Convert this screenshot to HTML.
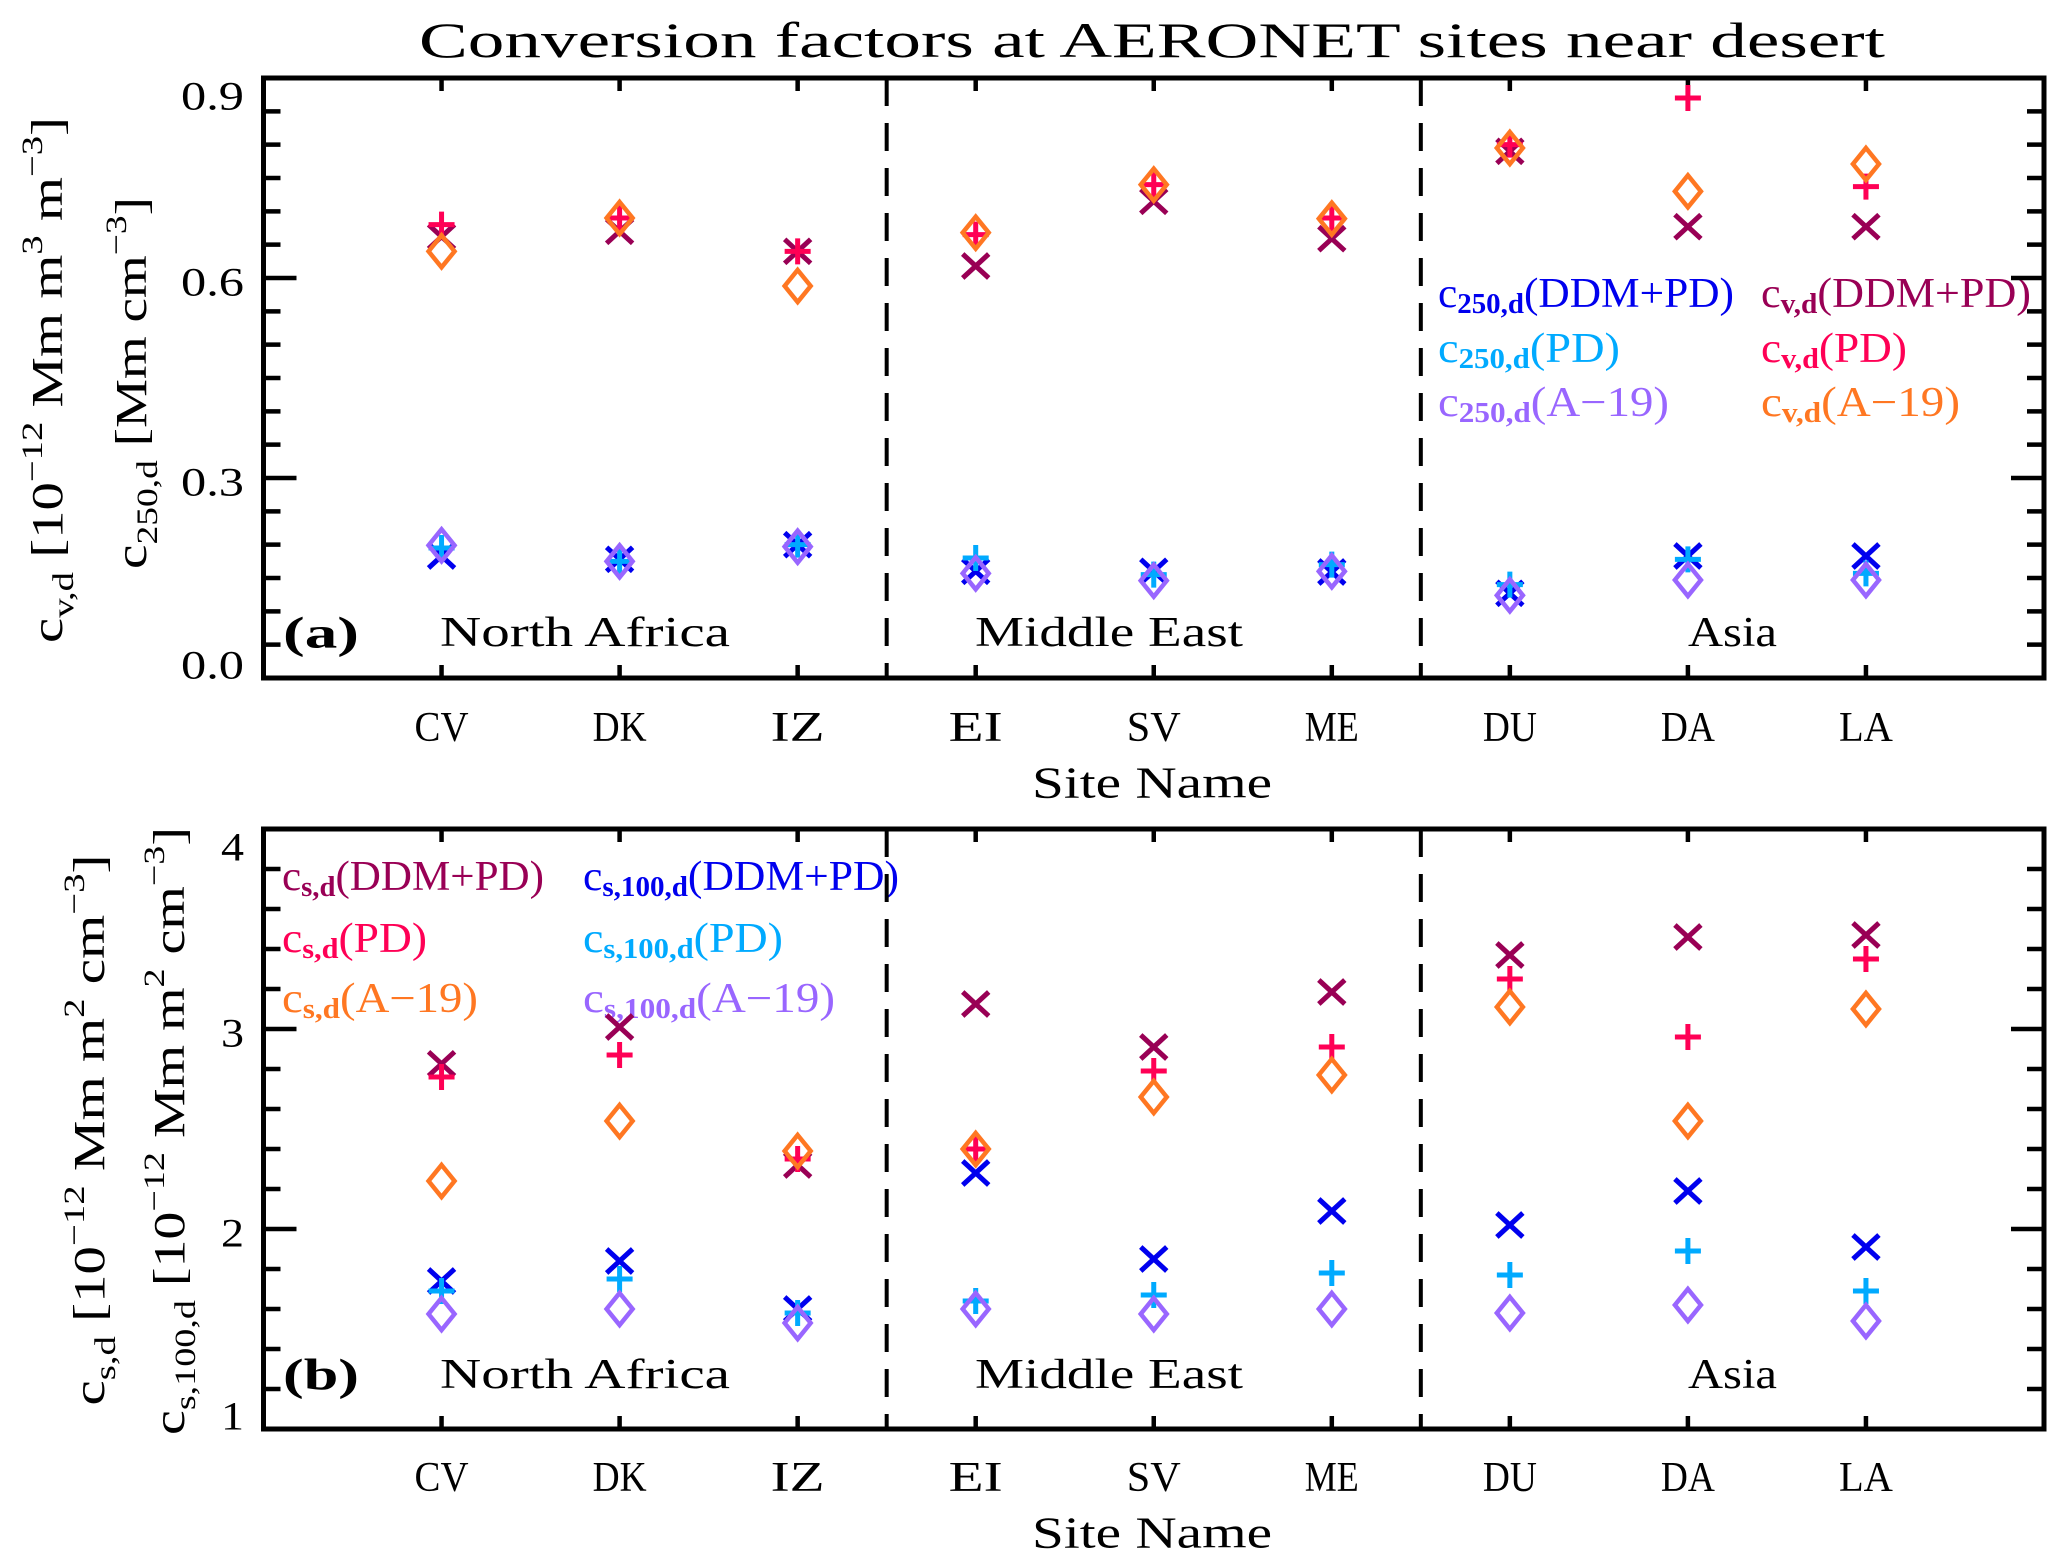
<!DOCTYPE html>
<html><head><meta charset="utf-8"><style>
html,body{margin:0;padding:0;background:#fff;overflow:hidden;}
svg{display:block;}
text{font-family:"Liberation Serif",serif;fill:#000;}
</style></head><body>
<svg id="chart" xmlns="http://www.w3.org/2000/svg" width="2067" height="1565" viewBox="0 0 2067 1565">
<rect x="0" y="0" width="2067" height="1565" fill="#fff"/>
<text x="1152" y="40" font-size="50" text-anchor="middle" dominant-baseline="central" textLength="1466" lengthAdjust="spacingAndGlyphs">Conversion factors at AERONET sites near desert</text>

<text transform="translate(62,380) rotate(-90)" font-size="44" text-anchor="middle" textLength="526" lengthAdjust="spacingAndGlyphs">c<tspan font-size="30" baseline-shift="-11">v,d</tspan> [10<tspan font-size="30" baseline-shift="20">−12</tspan> Mm m<tspan font-size="30" baseline-shift="20">3</tspan> m<tspan font-size="30" baseline-shift="20">−3</tspan>]</text>
<text transform="translate(146,383) rotate(-90)" font-size="44" text-anchor="middle" textLength="372" lengthAdjust="spacingAndGlyphs">c<tspan font-size="30" baseline-shift="-11">250,d</tspan> [Mm cm<tspan font-size="30" baseline-shift="20">−3</tspan>]</text>
<text transform="translate(104,1130) rotate(-90)" font-size="44" text-anchor="middle" textLength="551" lengthAdjust="spacingAndGlyphs">c<tspan font-size="30" baseline-shift="-11">s,d</tspan> [10<tspan font-size="30" baseline-shift="20">−12</tspan> Mm m<tspan font-size="30" baseline-shift="20">2</tspan> cm<tspan font-size="30" baseline-shift="20">−3</tspan>]</text>
<text transform="translate(184,1131) rotate(-90)" font-size="44" text-anchor="middle" textLength="608" lengthAdjust="spacingAndGlyphs">c<tspan font-size="30" baseline-shift="-11">s,100,d</tspan> [10<tspan font-size="30" baseline-shift="20">−12</tspan> Mm m<tspan font-size="30" baseline-shift="20">2</tspan> cm<tspan font-size="30" baseline-shift="20">−3</tspan>]</text>

<text x="1152" y="783" font-size="44" text-anchor="middle" dominant-baseline="central" textLength="240" lengthAdjust="spacingAndGlyphs">Site Name</text>
<text x="1152" y="1533" font-size="44" text-anchor="middle" dominant-baseline="central" textLength="240" lengthAdjust="spacingAndGlyphs">Site Name</text>

<text x="283" y="633" font-size="44" font-weight="bold" dominant-baseline="central" textLength="76" lengthAdjust="spacingAndGlyphs" font-family="Liberation Sans">(a)</text>
<text x="283" y="1375" font-size="44" font-weight="bold" dominant-baseline="central" textLength="76" lengthAdjust="spacingAndGlyphs" font-family="Liberation Sans">(b)</text>

<text x="440" y="633" font-size="42" dominant-baseline="central" textLength="290" lengthAdjust="spacingAndGlyphs">North Africa</text>
<text x="975" y="633" font-size="42" dominant-baseline="central" textLength="268" lengthAdjust="spacingAndGlyphs">Middle East</text>
<text x="1688" y="633" font-size="42" dominant-baseline="central" textLength="89" lengthAdjust="spacingAndGlyphs">Asia</text>
<text x="440" y="1375" font-size="42" dominant-baseline="central" textLength="290" lengthAdjust="spacingAndGlyphs">North Africa</text>
<text x="975" y="1375" font-size="42" dominant-baseline="central" textLength="268" lengthAdjust="spacingAndGlyphs">Middle East</text>
<text x="1688" y="1375" font-size="42" dominant-baseline="central" textLength="89" lengthAdjust="spacingAndGlyphs">Asia</text>

<g font-size="42" dominant-baseline="central">
<text x="1438" y="294" style="fill:#0000EE" textLength="296" lengthAdjust="spacingAndGlyphs">c<tspan font-size="28" font-weight="bold" baseline-shift="-10" style="fill:#0000EE">250,d</tspan><tspan baseline-shift="0">(DDM+PD)</tspan></text>
<text x="1438" y="349" style="fill:#00AAFF" textLength="182" lengthAdjust="spacingAndGlyphs">c<tspan font-size="28" font-weight="bold" baseline-shift="-10" style="fill:#00AAFF">250,d</tspan><tspan baseline-shift="0">(PD)</tspan></text>
<text x="1438" y="403" style="fill:#9966FF" textLength="231" lengthAdjust="spacingAndGlyphs">c<tspan font-size="28" font-weight="bold" baseline-shift="-10" style="fill:#9966FF">250,d</tspan><tspan baseline-shift="0">(A−19)</tspan></text>
<text x="1761" y="294" style="fill:#990055" textLength="270" lengthAdjust="spacingAndGlyphs">c<tspan font-size="28" font-weight="bold" baseline-shift="-10" style="fill:#990055">v,d</tspan><tspan baseline-shift="0">(DDM+PD)</tspan></text>
<text x="1761" y="349" style="fill:#FF0055" textLength="146" lengthAdjust="spacingAndGlyphs">c<tspan font-size="28" font-weight="bold" baseline-shift="-10" style="fill:#FF0055">v,d</tspan><tspan baseline-shift="0">(PD)</tspan></text>
<text x="1761" y="403" style="fill:#FF7722" textLength="199" lengthAdjust="spacingAndGlyphs">c<tspan font-size="28" font-weight="bold" baseline-shift="-10" style="fill:#FF7722">v,d</tspan><tspan baseline-shift="0">(A−19)</tspan></text>
</g>
<g font-size="42" dominant-baseline="central">
<text x="282" y="877" style="fill:#990055" textLength="262" lengthAdjust="spacingAndGlyphs">c<tspan font-size="28" font-weight="bold" baseline-shift="-10" style="fill:#990055">s,d</tspan><tspan baseline-shift="0">(DDM+PD)</tspan></text>
<text x="282" y="939" style="fill:#FF0055" textLength="145" lengthAdjust="spacingAndGlyphs">c<tspan font-size="28" font-weight="bold" baseline-shift="-10" style="fill:#FF0055">s,d</tspan><tspan baseline-shift="0">(PD)</tspan></text>
<text x="282" y="999" style="fill:#FF7722" textLength="196" lengthAdjust="spacingAndGlyphs">c<tspan font-size="28" font-weight="bold" baseline-shift="-10" style="fill:#FF7722">s,d</tspan><tspan baseline-shift="0">(A−19)</tspan></text>
<text x="583" y="877" style="fill:#0000EE" textLength="316" lengthAdjust="spacingAndGlyphs">c<tspan font-size="28" font-weight="bold" baseline-shift="-10" style="fill:#0000EE">s,100,d</tspan><tspan baseline-shift="0">(DDM+PD)</tspan></text>
<text x="583" y="939" style="fill:#00AAFF" textLength="200" lengthAdjust="spacingAndGlyphs">c<tspan font-size="28" font-weight="bold" baseline-shift="-10" style="fill:#00AAFF">s,100,d</tspan><tspan baseline-shift="0">(PD)</tspan></text>
<text x="583" y="999" style="fill:#9966FF" textLength="252" lengthAdjust="spacingAndGlyphs">c<tspan font-size="28" font-weight="bold" baseline-shift="-10" style="fill:#9966FF">s,100,d</tspan><tspan baseline-shift="0">(A−19)</tspan></text>
</g>
<g id="dyn"></g>
</svg>
<script>
const sites = ["CV","DK","IZ","EI","SV","ME","DU","DA","LA"];
const dividers = [2.5, 5.5];
// panel a
const aTicks = [0.0, 0.3, 0.6, 0.9];
const aTickLabels = ["0.0","0.3","0.6","0.9"];
const cvDDM   = [0.662,0.670,0.640,0.618,0.715,0.659,0.790,0.677,0.677];
const cvPD    = [0.680,0.690,0.640,0.665,0.740,0.690,0.800,0.870,0.737];
const cvA19   = [0.640,0.690,0.588,0.668,0.740,0.689,0.795,0.730,0.771];
const c250DDM = [0.183,0.178,0.200,0.160,0.160,0.159,0.127,0.183,0.183];
const c250PD  = [0.195,0.175,0.200,0.180,0.155,0.170,0.140,0.178,0.157];
const c250A19 = [0.199,0.175,0.197,0.157,0.146,0.160,0.124,0.147,0.147];
// panel b
const bTicks = [1, 2, 3, 4];
const bTickLabels = ["1","2","3","4"];
const csDDM    = [2.826,3.010,2.320,3.125,2.910,3.185,3.370,3.460,3.470];
const csPD     = [2.760,2.870,2.350,2.400,2.790,2.910,3.250,2.960,3.350];
const csA19    = [2.240,2.540,2.390,2.400,2.660,2.770,3.110,2.540,3.100];
const cs100DDM = [1.740,1.840,1.600,2.280,1.850,2.090,2.020,2.190,1.910];
const cs100PD  = [1.690,1.750,1.580,1.640,1.670,1.780,1.770,1.890,1.690];
const cs100A19 = [1.575,1.600,1.530,1.600,1.575,1.600,1.580,1.620,1.540];

const NS = "http://www.w3.org/2000/svg";
const layer = document.getElementById("dyn");
const L = 263.5, R = 2044;
const xDom = [-1, 9];
function xs(i){ return L + (i - xDom[0]) / (xDom[1] - xDom[0]) * (R - L); }
function mk(tag, attrs, parent){
  const e = document.createElementNS(NS, tag);
  for (const k in attrs) e.setAttribute(k, attrs[k]);
  (parent || layer).appendChild(e);
  return e;
}
function drawPanel(p){
  const ys = v => p.B - (v - p.d0) / (p.d1 - p.d0) * (p.B - p.T);
  const g = mk("g", {});
  
  
  dividers.forEach(d => {
    const l = mk("line", {x1:xs(d), x2:xs(d), y1:p.T, y2:p.B, stroke:"#000", "stroke-width":4, "stroke-dasharray":"28 17"}, g);
    
    
  });
  const nSteps = Math.round((p.d1 - p.d0) / p.minor);
  const perMajor = Math.round(p.major / p.minor);
  for (let s = 0; s <= nSteps; s++) {
    const v = p.d0 + s * p.minor;
    const len = (s % perMajor === 0) ? 33 : 17;
    const y = ys(v);
    const t1 = mk("line", {x1:L, x2:L + len, y1:y, y2:y, stroke:"#000", "stroke-width":4.5}, g);
    
    
    const t2 = mk("line", {x1:R, x2:R - len, y1:y, y2:y, stroke:"#000", "stroke-width":4.5}, g);
    
    
  }
  p.ticks.forEach((v, k) => {
    let y = ys(v) + 4;
    y = Math.max(p.T + 18, Math.min(p.B - 13, y));
    const t = mk("text", {x:244, y:y, "font-size":40, "text-anchor":"end", "dominant-baseline":"central", textLength:p.labels[k].length > 1 ? 63 : 23, lengthAdjust:"spacingAndGlyphs"}, g);
    t.textContent = p.labels[k];
    
    
  });
  sites.forEach((s, i) => {
    const x = xs(i);
    const a = mk("line", {x1:x, x2:x, y1:p.B, y2:p.B - 13, stroke:"#000", "stroke-width":4.5}, g);
    
    
    const b = mk("line", {x1:x, x2:x, y1:p.T, y2:p.T + 13, stroke:"#000", "stroke-width":4.5}, g);
    
    
    const t = mk("text", {x:x, y:p.labY, "font-size":42, "text-anchor":"middle", "dominant-baseline":"central", textLength:54, lengthAdjust:"spacingAndGlyphs"}, g);
    t.textContent = s;
    
    
  });
  p.series.forEach(se => {
    se.vals.forEach((v, i) => {
      const x = xs(i), y = ys(v);
      let m;
      if (se.shape === "x") {
        const hw = 13, hh = 12;
        m = mk("path", {d:`M${x-hw},${y-hh}L${x+hw},${y+hh}M${x-hw},${y+hh}L${x+hw},${y-hh}`, stroke:se.color, "stroke-width":5, fill:"none"}, g);
      } else if (se.shape === "+") {
        const h = 13;
        m = mk("path", {d:`M${x-h},${y}L${x+h},${y}M${x},${y-h}L${x},${y+h}`, stroke:se.color, "stroke-width":5, fill:"none"}, g);
      } else {
        const w = 13, hh = 16;
        m = mk("path", {d:`M${x},${y-hh}L${x+w},${y}L${x},${y+hh}L${x-w},${y}Z`, stroke:se.color, "stroke-width":4.5, fill:"none"}, g);
      }
      
      
    });
  });
  const f = mk("rect", {x:L, y:p.T, width:R - L, height:p.B - p.T, fill:"none", stroke:"#000", "stroke-width":5}, g);
  
  
}
drawPanel({id:"panel-a", T:78, B:678, d0:0, d1:0.9, major:0.3, minor:0.05, ticks:aTicks, labels:aTickLabels, labY:728,
  series:[
    {name:"c250-ddm-pd", vals:c250DDM, color:"#0000EE", shape:"x"},
    {name:"c250-pd", vals:c250PD, color:"#00AAFF", shape:"+"},
    {name:"c250-a19", vals:c250A19, color:"#9966FF", shape:"d"},
    {name:"cv-ddm-pd", vals:cvDDM, color:"#990055", shape:"x"},
    {name:"cv-pd", vals:cvPD, color:"#FF0055", shape:"+"},
    {name:"cv-a19", vals:cvA19, color:"#FF7722", shape:"d"}
  ]});
drawPanel({id:"panel-b", T:829, B:1429, d0:1, d1:4, major:1, minor:0.2, ticks:bTicks, labels:bTickLabels, labY:1478,
  series:[
    {name:"cs100-ddm-pd", vals:cs100DDM, color:"#0000EE", shape:"x"},
    {name:"cs100-pd", vals:cs100PD, color:"#00AAFF", shape:"+"},
    {name:"cs100-a19", vals:cs100A19, color:"#9966FF", shape:"d"},
    {name:"cs-ddm-pd", vals:csDDM, color:"#990055", shape:"x"},
    {name:"cs-pd", vals:csPD, color:"#FF0055", shape:"+"},
    {name:"cs-a19", vals:csA19, color:"#FF7722", shape:"d"}
  ]});
</script>
</body></html>
